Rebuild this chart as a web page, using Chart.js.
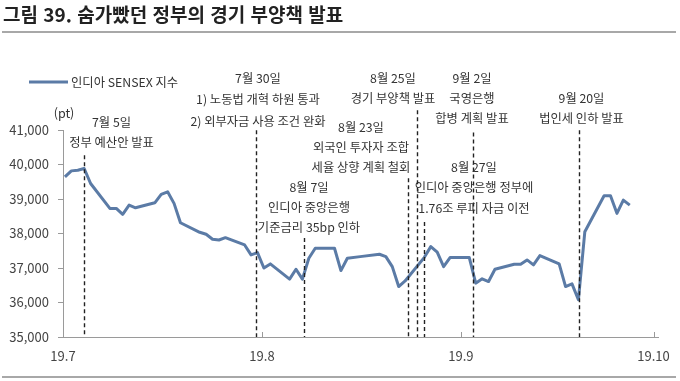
<!DOCTYPE html>
<html lang="ko">
  <head>
    <meta charset="UTF-8" />
    <title>그림 39</title>
    <script src="https://cdn.jsdelivr.net/npm/chart.js"></script>
    <style>
      body {
        margin: 0;
        background: #fff;
        font-family: "Noto Sans CJK KR", sans-serif;
      }
      #wrap {
        position: relative;
        width: 680px;
        height: 381px;
        overflow: hidden;
      }
      #title {
        position: absolute;
        left: 3px;
        top: 0px;
        font-size: 19px;
        font-weight: bold;
        color: #222;
        white-space: nowrap;
      }
      .rule {
        position: absolute;
        left: 2px;
        width: 674px;
        height: 2px;
        background: #a8a8a8;
      }
      #chartBox {
        position: absolute;
        left: 0;
        top: 0;
        width: 680px;
        height: 381px;
      }
    </style>
  </head>
  <body>
    <div id="wrap">
      <div id="chartBox"><canvas id="sensex"></canvas></div>
      <div id="title">그림 39. 숨가빴던 정부의 경기 부양책 발표</div>
      <div class="rule" style="top: 31px"></div>
      <div class="rule" style="top: 376px"></div>
    </div>

    <script>
      // trading days (2019) and SENSEX close
      var dates = [
        "07-01", "07-02", "07-03", "07-04", "07-05", "07-08", "07-09", "07-10",
        "07-11", "07-12", "07-15", "07-16", "07-17", "07-18", "07-19", "07-22",
        "07-23", "07-24", "07-25", "07-26", "07-29", "07-30", "07-31", "08-01",
        "08-02", "08-05", "08-06", "08-07", "08-08", "08-09", "08-12", "08-13",
        "08-14", "08-16", "08-19", "08-20", "08-21", "08-22", "08-23", "08-26",
        "08-27", "08-28", "08-29", "08-30", "09-02", "09-03", "09-04", "09-05",
        "09-06", "09-09", "09-10", "09-11", "09-12", "09-13", "09-16", "09-17",
        "09-18", "09-19", "09-20", "09-23", "09-24", "09-25", "09-26", "09-27"
      ];
      var sensex = [
        39640, 39815, 39835, 39884, 39450, 38728, 38728, 38555,
        38824, 38746, 38890, 39133, 39208, 38873, 38312, 38035,
        37977, 37832, 37812, 37879, 37668, 37379, 37445, 37000,
        37119, 36676, 36965, 36676, 37283, 37572, 37572, 36925,
        37283, 37330, 37399, 37330, 37040, 36462, 36625, 37309,
        37619, 37457, 37040, 37301, 37301, 36561, 36685, 36607,
        36965, 37110, 37110, 37234, 37090, 37358, 37119, 36462,
        36540, 36078, 38052, 39092, 39092, 38584, 38968, 38824
      ];
      var tickDates = ["07-01", "08-01", "09-01", "10-01"];
      var tickLabels = ["19.7", "19.8", "19.9", "19.10"];
      var seriesName = "인디아 SENSEX 지수";

      // event markers: date position (days from Jul 1) and top of the dashed line
      var eventDays = [3.3, 30.1, 37.6, 53.7, 55.1, 56.3, 63.9, 80.4];
      var eventTops = [40270, 40990, 37870, 39600, 41570, 38330, 40930, 40990];

      // text blocks next to the markers (pixel centres)
      var notes = [
        { x: 258, y: 78, gap: 21.5, lines: ["7월 30일", "1) 노동법 개혁 하원 통과", "2) 외부자금 사용 조건 완화"] },
        { x: 111.5, y: 122, gap: 20, lines: ["7월 5일", "정부 예산안 발표"] },
        { x: 393, y: 78, gap: 20, lines: ["8월 25일", "경기 부양책 발표"] },
        { x: 472, y: 78, gap: 20, lines: ["9월 2일", "국영은행", "합병 계획 발표"] },
        { x: 581.5, y: 98, gap: 20, lines: ["9월 20일", "법인세 인하 발표"] },
        { x: 361, y: 127, gap: 20, lines: ["8월 23일", "외국인 투자자 조합", "세율 상향 계획 철회"] },
        { x: 309, y: 187, gap: 20, lines: ["8월 7일", "인디아 중앙은행", "기준금리 35bp 인하"] },
        { x: 474, y: 167, gap: 20.5, lines: ["8월 27일", "인디아 중앙은행 정부에", "1.76조 루피 자금 이전"] }
      ];

      var SERIES_COLOR = "#5b7ba6";
      var AXIS_COLOR = "#9a9a9a";
      var TEXT_COLOR = "#333";
      var FONT = '"Noto Sans CJK KR", sans-serif';

      function dayOf(md) {
        var p = md.split("-");
        var t = Date.UTC(2019, +p[0] - 1, +p[1]);
        return (t - Date.UTC(2019, 6, 1)) / 86400000;
      }

      var points = dates.map(function (d, i) {
        // closes plotted a little into the day, as in the source chart
        return { x: dayOf(d) + 0.3, y: sensex[i] };
      });
      var tickDays = tickDates.map(dayOf);

      var overlay = {
        id: "overlay",
        afterDatasetsDraw: function (chart) {
          var ctx = chart.ctx;
          var xs = chart.scales.x;
          var ys = chart.scales.y;
          var bottom = chart.chartArea.bottom;
          ctx.save();
          // dashed event lines
          ctx.strokeStyle = "#222";
          ctx.lineWidth = 1.4;
          ctx.setLineDash([4, 3]);
          eventDays.forEach(function (d, i) {
            var px = Math.round(xs.getPixelForValue(d)) + 0.5;
            ctx.beginPath();
            ctx.moveTo(px, ys.getPixelForValue(eventTops[i]));
            ctx.lineTo(px, bottom);
            ctx.stroke();
          });
          ctx.setLineDash([]);
          // x tick marks pointing up into the plot
          ctx.strokeStyle = AXIS_COLOR;
          ctx.lineWidth = 1;
          tickDays.forEach(function (d) {
            var px = Math.round(xs.getPixelForValue(d)) + 0.5;
            ctx.beginPath();
            ctx.moveTo(px, bottom);
            ctx.lineTo(px, bottom - 5);
            ctx.stroke();
          });
          ctx.restore();
        },
        afterDraw: function (chart) {
          var ctx = chart.ctx;
          ctx.save();
          ctx.fillStyle = TEXT_COLOR;
          ctx.font = "12.3px " + FONT;
          ctx.textAlign = "center";
          ctx.textBaseline = "middle";
          notes.forEach(function (n) {
            n.lines.forEach(function (t, k) {
              ctx.fillText(t, n.x, n.y + k * n.gap);
            });
          });
          // unit
          ctx.font = "12.5px " + FONT;
          ctx.fillText("(pt)", 64, 113);
          // legend
          ctx.strokeStyle = SERIES_COLOR;
          ctx.lineWidth = 3;
          ctx.beginPath();
          ctx.moveTo(29, 82);
          ctx.lineTo(68, 82);
          ctx.stroke();
          ctx.textAlign = "left";
          ctx.font = "12.3px " + FONT;
          ctx.fillText(seriesName, 71, 82);
          ctx.restore();
        }
      };

      new Chart(document.getElementById("sensex"), {
        type: "line",
        data: {
          datasets: [
            {
              label: seriesName,
              data: points,
              borderColor: SERIES_COLOR,
              borderWidth: 3,
              pointRadius: 0,
              tension: 0,
              borderJoinStyle: "round"
            }
          ]
        },
        options: {
          responsive: true,
          maintainAspectRatio: false,
          animation: false,
          layout: { padding: { top: 130, right: 22, left: 0, bottom: 0 } },
          plugins: {
            legend: { display: false },
            tooltip: { enabled: false }
          },
          scales: {
            x: {
              type: "linear",
              min: 0,
              max: 92.7,
              grid: { display: false },
              border: { color: AXIS_COLOR, width: 1 },
              afterBuildTicks: function (scale) {
                scale.ticks = tickDays.map(function (v) {
                  return { value: v };
                });
              },
              afterFit: function (scale) {
                scale.height = 44;
              },
              ticks: {
                padding: 3,
                maxRotation: 0,
                color: "#444",
                font: { family: FONT, size: 13 },
                callback: function (v) {
                  var i = tickDays.indexOf(v);
                  return i >= 0 ? tickLabels[i] : "";
                }
              }
            },
            y: {
              min: 35000,
              max: 41000,
              grid: {
                drawOnChartArea: false,
                drawTicks: true,
                tickLength: 5,
                color: AXIS_COLOR
              },
              border: { color: AXIS_COLOR, width: 1 },
              afterFit: function (scale) {
                scale.width = 63;
              },
              ticks: {
                stepSize: 1000,
                padding: 9,
                color: "#444",
                font: { family: FONT, size: 13 },
                callback: function (v) {
                  return v.toLocaleString("en-US");
                }
              }
            }
          }
        },
        plugins: [overlay]
      });
    </script>
  </body>
</html>
